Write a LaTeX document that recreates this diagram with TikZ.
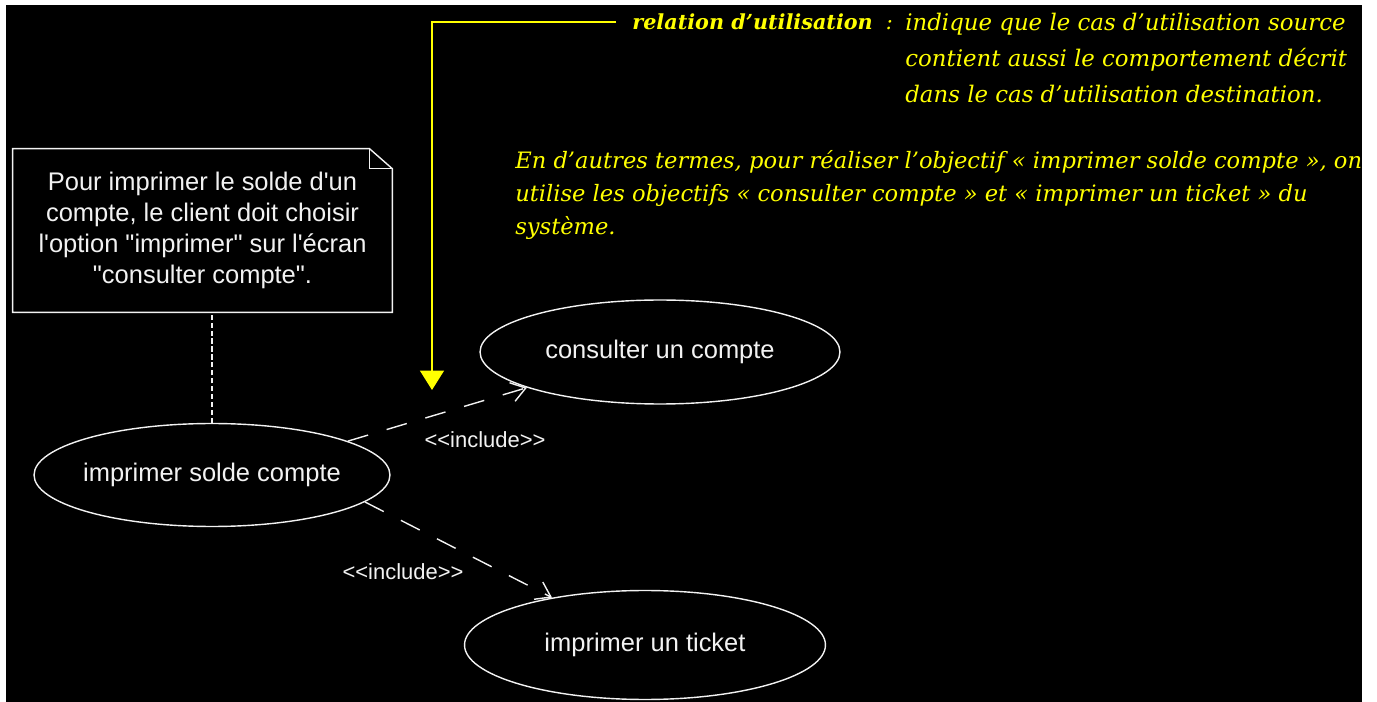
\documentclass[tikz,border=0pt]{standalone}
\usepackage{fontspec}
\setmainfont{Liberation Sans}[Ligatures=TeXOff]
\newfontfamily\remarkfont{DejaVu Serif}
\usepackage{tikz}
\usetikzlibrary{shapes.geometric, arrows.meta, positioning, calc}
\definecolor{noteyellow}{HTML}{FFFF00}
\definecolor{umlwhite}{HTML}{F2F2F2}
\tikzset{
	usecase/.style={ellipse, draw=umlwhite, line width=0.8pt, inner xsep=-4pt, inner ysep=0pt, text=umlwhite, font=\fontsize{14.5}{17}\selectfont},
	umlnote/.style={rectangle, minimum width=7.58cm, minimum height=3.26cm, align=center, text=umlwhite, font=\fontsize{14.5}{17.6}\selectfont},
	stereotype/.style={text=umlwhite, inner sep=0pt, font=\fontsize{12.5}{14}\selectfont},
	remark/.style={text=noteyellow, inner sep=0pt, align=left, font=\remarkfont\itshape\fontsize{13}{20.5}\selectfont},
	include/.style={draw=umlwhite, line width=0.8pt, dash pattern=on 12pt off 11pt, -{Straight Barb[length=8pt, width=11pt]}},
	anchorline/.style={draw=umlwhite, line width=0.8pt, dash pattern=on 3pt off 1.5pt},
	pointer/.style={draw=noteyellow, line width=1.2pt, -{Triangle[length=11pt, width=13.5pt]}}
}

\begin{document}
\begin{tikzpicture}[x=0.02cm, y=-0.02cm]
	% Cadre
	\useasboundingbox (0,0) rectangle (1377,702);
	\fill[white] (0,0) rectangle (1377,702);
	\fill[black] (6,5) rectangle (1362,702);
	
	% Cas d'utilisation
	\node (solde) [usecase, minimum width=7.12cm, minimum height=2.06cm] at (212,475) {imprimer solde compte};
	\node (consult) [usecase, minimum width=7.2cm, minimum height=2.08cm] at (660,352) {consulter un compte};
	\node (ticket) [usecase, minimum width=7.22cm, minimum height=2.18cm] at (645,645) {imprimer un ticket};
	
	% Note et son lien
	\node (note) [umlnote] at (202.5,230.5) {Pour imprimer le solde d'un\\compte, le client doit choisir\\l'option "imprimer" sur l'écran\\"consulter compte".};
	\draw[umlwhite, line width=0.8pt] (note.north west) -- ([xshift=-13pt]note.north east) -- ([yshift=-11.4pt]note.north east) -- (note.south east) -- (note.south west) -- cycle;
	\draw[umlwhite, line width=0.8pt] ([xshift=-13pt]note.north east) |- ([yshift=-11.4pt]note.north east);
	\draw[anchorline] (solde.north) -- (solde.north |- note.south);
	
	% Relations include
	\node (inc1) [stereotype] at (485,440) {<<include>>};
	\node (inc2) [stereotype] at (403,572) {<<include>>};
	\draw[include] (solde.14) -- (consult.195);
	\draw[include] (solde.-10) -- (ticket.153);
	
	% Commentaires en jaune
	\node (rel) [remark, anchor=west, font=\remarkfont\itshape\fontsize{11.8}{14}\selectfont] at (632,22) {\bfseries relation d’utilisation\mdseries\ \ :};
	\node (def) [remark, anchor=north west] at (905,13) {indique que le cas d’utilisation source\\contient aussi le comportement décrit\\dans le cas d’utilisation destination.};
	\node (autres) [remark, anchor=north west, font=\remarkfont\itshape\fontsize{12.85}{18.8}\selectfont] at (515,150) {En d’autres termes, pour réaliser l’objectif « imprimer solde compte », on\\utilise les objectifs « consulter compte » et « imprimer un ticket » du\\système.};
	\coordinate (tip) at (432,390);
	\draw[pointer, shorten <=9pt] (rel.west) -| (tip);
\end{tikzpicture}
\end{document}
